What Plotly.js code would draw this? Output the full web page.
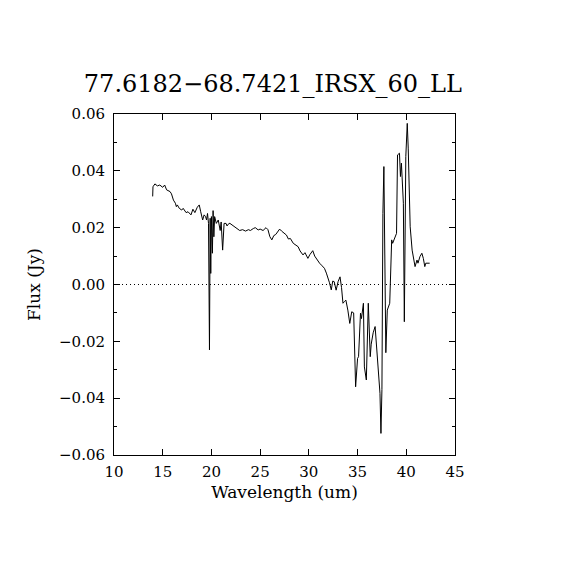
<!DOCTYPE html>
<html>
<head>
<meta charset="utf-8">
<script src="https://cdn.plot.ly/plotly-3.0.1.min.js"></script>
<style>html,body{margin:0;padding:0;background:#fff;}#chart{width:570px;height:570px;}</style>
</head>
<body>
<div id="chart"></div>
<script>
const chartTitle = "77.6182\u221268.7421_IRSX_60_LL";
const xLabel = "Wavelength (um)";
const yLabel = "Flux (Jy)";
const xTickVals = [10, 15, 20, 25, 30, 35, 40, 45];
const yTickVals = [-0.06, -0.04, -0.02, 0.0, 0.02, 0.04, 0.06];
const yTickText = ["\u22120.06", "\u22120.04", "\u22120.02", "0.00", "0.02", "0.04", "0.06"];

const wavelength = [
  13.97, 14.0, 14.2, 14.45, 14.7, 15.0, 15.2, 15.4, 15.75, 15.9,
  16.1, 16.3, 16.4, 16.5, 16.7, 16.95, 17.1, 17.4, 17.6, 17.9,
  18.1, 18.3, 18.55, 18.75, 18.9, 19.1, 19.25, 19.4, 19.5, 19.6,
  19.7, 19.8, 19.87, 19.93, 20.0, 20.1, 20.17, 20.25, 20.33, 20.5,
  20.7, 20.9, 21.0, 21.15, 21.3, 21.5, 21.6, 21.8, 21.9, 22.1,
  22.4, 22.7, 22.9, 23.2, 23.5, 23.8, 24.0, 24.3, 24.5, 24.8,
  25.0, 25.3, 25.6, 25.8, 26.0, 26.2, 26.4, 26.6, 26.8, 27.0,
  27.2, 27.4, 27.7, 27.9, 28.1, 28.4, 28.6, 28.9, 29.1, 29.4,
  29.6, 29.9, 30.1, 30.4, 30.6, 30.8, 31.1, 31.3, 31.6, 31.8,
  32.0, 32.1, 32.3, 32.45, 32.6, 32.8, 33.0, 33.2, 33.35, 33.5,
  33.65, 33.8, 34.0, 34.2, 34.4, 34.6, 34.8, 35.0, 35.1, 35.3,
  35.4, 35.6, 35.7, 35.9, 36.1, 36.3, 36.4, 36.6, 36.8, 36.9,
  37.1, 37.3, 37.4, 37.5, 37.6, 37.7, 37.9, 38.05, 38.3, 38.5,
  38.6, 38.8, 39.0, 39.1, 39.3, 39.4, 39.5, 39.7, 39.8, 39.95,
  40.1, 40.2, 40.4, 40.6, 40.7, 40.9, 41.1, 41.2, 41.4, 41.6,
  41.75, 41.9, 42.0, 42.4
];
const flux = [
  0.031, 0.0344, 0.0354, 0.0347, 0.035, 0.0342, 0.035, 0.0333, 0.0327, 0.0319,
  0.0297, 0.0286, 0.0274, 0.028, 0.0268, 0.0262, 0.0268, 0.0253, 0.0256, 0.0245,
  0.0265, 0.0253, 0.0272, 0.028, 0.0256, 0.0227, 0.0245, 0.0239, 0.0227, 0.025,
  0.0215, -0.023, 0.0233, 0.0039, 0.0239, 0.011, 0.026, 0.0168, 0.0239, 0.0215,
  0.0227, 0.019, 0.022, 0.0121, 0.0215, 0.0215, 0.0206, 0.0215, 0.0215, 0.021,
  0.020, 0.0195, 0.019, 0.0193, 0.0188, 0.0193, 0.019, 0.0197, 0.020, 0.0192,
  0.0195, 0.019, 0.020, 0.0193, 0.0168, 0.0157, 0.0172, 0.0176, 0.0185, 0.0195,
  0.0188, 0.0182, 0.0174, 0.016, 0.0162, 0.0145, 0.014, 0.0133, 0.0118, 0.0104,
  0.0112, 0.0092, 0.0105, 0.0119, 0.010, 0.0088, 0.0075, 0.0068, 0.0057, 0.004,
  0.0022, 0.0008, -0.0019, 0.0012, 0.001, -0.002, 0.001, 0.0027, -0.001, -0.0066,
  -0.006, -0.0055, -0.009, -0.0137, -0.0096, -0.010, -0.036, -0.026, -0.0254, -0.0101,
  -0.012, -0.0066, -0.029, -0.0336, -0.0066, -0.0254, -0.021, -0.017, -0.0148, -0.0195,
  -0.0277, -0.0383, -0.0524, -0.037, 0.025, 0.0415, -0.024, -0.009, -0.0066, 0.0157,
  0.0145, 0.0163, 0.018, 0.0456, 0.0462, 0.038, 0.0427, 0.0286, -0.0131, 0.045,
  0.0567, 0.048, 0.0203, 0.0121, 0.0098, 0.0063, 0.0086, 0.0075, 0.0098, 0.011,
  0.0092, 0.0063, 0.0075, 0.0075
];

const font = "DejaVu Serif, Liberation Serif, serif";

const traces = [{
  x: wavelength, y: flux, type: "scatter", mode: "lines",
  line: {color: "#000", width: 1}, hoverinfo: "skip"
}];

const layout = {
  width: 570, height: 570,
  margin: {l: 114, r: 115, t: 114, b: 115},
  paper_bgcolor: "#fff", plot_bgcolor: "#fff",
  showlegend: false,
  font: {family: font, color: "#000", size: 15},
  title: {text: chartTitle, font: {family: font, size: 24, color: "#000"},
          xref: "paper", x: 0.466, xanchor: "center",
          yref: "container", y: 0.854, yanchor: "middle"},
  xaxis: {
    range: [10, 45], tickmode: "array", tickvals: xTickVals,
    ticks: "inside", ticklen: 6, tickwidth: 1, tickcolor: "#000",
    ticklabelstandoff: 3,
    showline: true, linecolor: "#000", linewidth: 1, mirror: "ticks",
    showgrid: false, zeroline: false,
    tickfont: {family: font, size: 15, color: "#000"},
    title: {text: xLabel, font: {family: font, size: 17, color: "#000"}, standoff: 6}
  },
  yaxis: {
    range: [-0.06, 0.06], tickmode: "array", tickvals: yTickVals, ticktext: yTickText,
    ticks: "inside", ticklen: 6, tickwidth: 1, tickcolor: "#000",
    ticklabelstandoff: 5,
    minor: {dtick: 0.01, ticks: "inside", ticklen: 3, tickcolor: "#000", showgrid: false},
    showline: true, linecolor: "#000", linewidth: 1, mirror: "ticks",
    showgrid: false, zeroline: false,
    tickfont: {family: font, size: 15, color: "#000"},
    title: {text: yLabel, font: {family: font, size: 17, color: "#000"}, standoff: 14}
  },
  shapes: [{type: "line", xref: "paper", x0: 0, x1: 1, yref: "y", y0: 0, y1: 0,
            line: {color: "#000", width: 1, dash: "1px,3px"}, layer: "below"}]
};

Plotly.newPlot("chart", traces, layout, {staticPlot: true, displayModeBar: false});
</script>
</body>
</html>
